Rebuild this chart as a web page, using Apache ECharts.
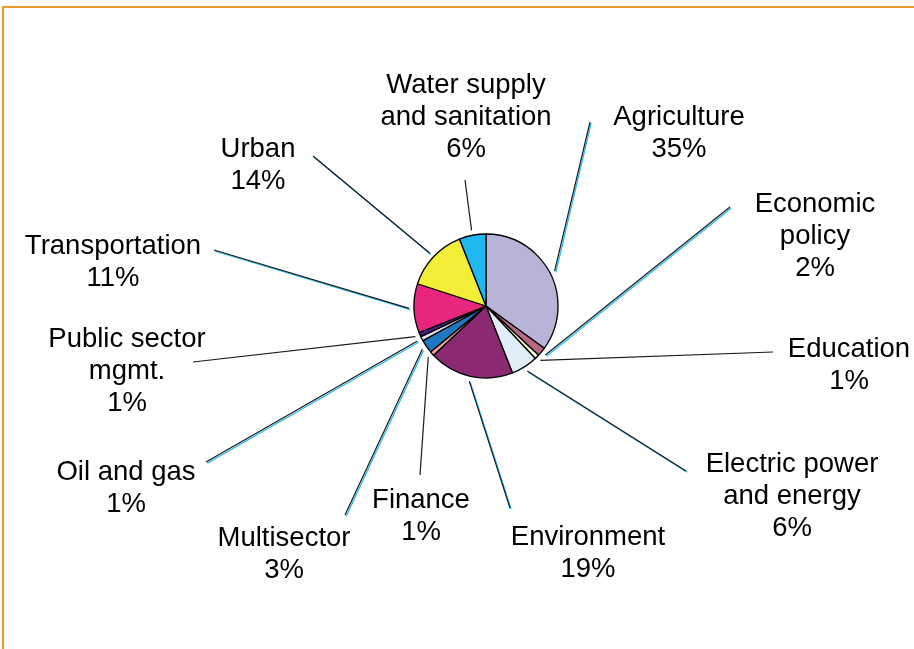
<!DOCTYPE html>
<html>
<head>
<meta charset="utf-8">
<script src="https://cdn.jsdelivr.net/npm/echarts@6/dist/echarts.min.js"></script>
<style>
  html, body { margin: 0; padding: 0; background: #fff; }
  #chart { width: 914px; height: 649px; }
</style>
</head>
<body>
<div id="chart"></div>
<script>
// sectors clockwise from 12 o'clock
const sectors = ['Agriculture', 'Economic policy', 'Education', 'Electric power and energy',
    'Environment', 'Finance', 'Multisector', 'Oil and gas', 'Public sector mgmt.',
    'Transportation', 'Urban', 'Water supply and sanitation'];
const labelNames = ['Agriculture', 'Economic\npolicy', 'Education', 'Electric power\nand energy',
    'Environment', 'Finance', 'Multisector', 'Oil and gas', 'Public sector\nmgmt.',
    'Transportation', 'Urban', 'Water supply\nand sanitation'];
const shares = [35, 2, 1, 6, 19, 1, 3, 1, 1, 11, 14, 6];
const colors = ['#b8b4d8', '#b86880', '#ffffd8', '#e0eef8', '#8b2a72', '#f0a898',
    '#1e78c0', '#e0e0f4', '#4a1a80', '#e8267e', '#f5ee38', '#20b8f0'];

// where the labels sit and where their leader lines end
const labelCenters = [[679, 133], [815, 236], [849, 365], [792, 496], [588, 553], [421, 516],
    [284, 554], [126, 488], [127, 371], [113, 262], [258, 165], [466, 117]];
const lineEnds = [[590, 122], [730, 207], [773, 352], [686, 471], [510, 508], [420, 475],
    [345, 515], [206, 462], [193, 362], [214, 250], [313, 156], [465, 180]];
const cyanEdge = [true, true, false, true, true, false, true, true, false, true, true, false];

const chart = echarts.init(document.getElementById('chart'));

const data = sectors.map((s, i) => ({
    name: s,
    value: shares[i],
    itemStyle: { color: colors[i] },
    labelLine: {
        lineStyle: cyanEdge[i]
            ? { shadowColor: '#20b8f0', shadowOffsetX: 1.2, shadowOffsetY: 1.2, shadowBlur: 0 }
            : {}
    }
}));

chart.setOption({
    animation: false,
    graphic: [{
        type: 'rect',
        shape: { x: 3, y: 7, width: 1000, height: 1000 },
        style: { fill: 'none', stroke: '#eb9a2a', lineWidth: 2 },
        silent: true
    }],
    series: [{
        type: 'pie',
        center: [486, 306],
        radius: 72,
        startAngle: 90,
        clockwise: true,
        avoidLabelOverlap: false,
        data: data,
        itemStyle: { borderColor: '#000', borderWidth: 1.3 },
        label: {
            show: true,
            position: 'outside',
            formatter: (p) => labelNames[p.dataIndex] + '\n' + p.value + '%',
            fontFamily: 'Liberation Sans, Arial, sans-serif',
            fontSize: 27.5,
            lineHeight: 32,
            color: '#000',
            align: 'center'
        },
        labelLine: {
            show: true,
            length: 10,
            length2: 10,
            lineStyle: { color: '#1a1a1a', width: 1.2 }
        },
        labelLayout: (params) => {
            const i = params.dataIndex;
            const pts = params.labelLinePoints;
            let start = pts ? pts[0] : [486, 306];
            if (pts) {
                const dx = pts[1][0] - pts[0][0];
                const dy = pts[1][1] - pts[0][1];
                const len = Math.sqrt(dx * dx + dy * dy) || 1;
                start = [pts[0][0] + dx / len * 5, pts[0][1] + dy / len * 5];
            }
            return {
                x: labelCenters[i][0],
                y: labelCenters[i][1],
                align: 'center',
                verticalAlign: 'middle',
                labelLinePoints: [start, lineEnds[i], lineEnds[i]]
            };
        }
    }]
});
</script>
</body>
</html>
